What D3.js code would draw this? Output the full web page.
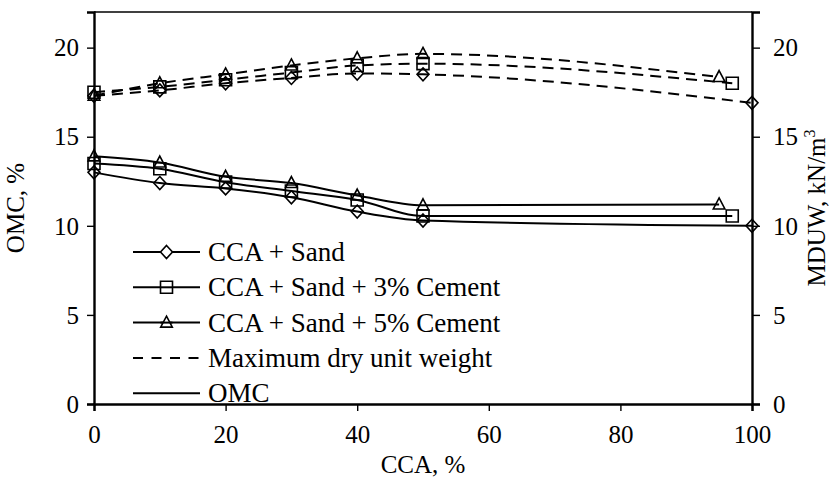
<!DOCTYPE html>
<html>
<head>
<meta charset="utf-8">
<script src="https://cdn.jsdelivr.net/npm/d3@7"></script>
<style>
  html, body { margin: 0; padding: 0; background: #fff; }
  svg text { font-family: 'Liberation Serif', 'DejaVu Serif', serif; fill: #000; }
</style>
</head>
<body>
<svg id="chart" width="836" height="478"></svg>
<script>
// CCA content (%) for each mix
const ccaSand = [0, 10, 20, 30, 40, 50, 100];
const ccaCem3 = [0, 10, 20, 30, 40, 50, 97];
const ccaCem5 = [0, 10, 20, 30, 40, 50, 95];

// Optimum moisture content (%)
const omcSand = [13.0, 12.4, 12.1, 11.6, 10.8, 10.3, 10.0];
const omcCem3 = [13.5, 13.2, 12.45, 11.95, 11.45, 10.55, 10.55];
const omcCem5 = [13.9, 13.55, 12.75, 12.4, 11.7, 11.15, 11.2];

// Maximum dry unit weight (kN/m3)
const mduwSand = [17.3, 17.6, 18.0, 18.3, 18.55, 18.5, 16.9];
const mduwCem3 = [17.5, 17.8, 18.2, 18.6, 19.0, 19.1, 18.0];
const mduwCem5 = [17.3, 18.0, 18.5, 19.0, 19.4, 19.65, 18.35];

const xTicks = [0, 20, 40, 60, 80, 100];
const yTicks = [0, 5, 10, 15, 20];

const seriesNames = ["CCA + Sand", "CCA + Sand + 3% Cement", "CCA + Sand + 5% Cement"];
const legendLineNames = ["Maximum dry unit weight", "OMC"];

const FONT = "'Liberation Serif', 'DejaVu Serif', serif";
const svg = d3.select("#chart");
const pLeft = 94, pRight = 752, pTop = 12, pBottom = 404;
const FS = 25, LEG_FS = 27;

const x = d3.scaleLinear().domain([0, 100]).range([pLeft, pRight]);
const yL = d3.scaleLinear().domain([0, 22]).range([pBottom, pTop]);
const yR = d3.scaleLinear().domain([0, 22]).range([pBottom, pTop]);

// marker shapes
const markerPath = {
  diamond: "M0,-6.5L6,0L0,6.5L-6,0Z",
  square: "M-6,-6H6V6H-6Z",
  triangle: "M0,-6.5L5.8,4.5H-5.8Z"
};
const shapes = ["diamond", "square", "triangle"];

const series = [
  { xs: ccaSand, omc: omcSand, mduw: mduwSand, shape: "diamond" },
  { xs: ccaCem3, omc: omcCem3, mduw: mduwCem3, shape: "square" },
  { xs: ccaCem5, omc: omcCem5, mduw: mduwCem5, shape: "triangle" }
];

const curve = d3.curveMonotoneX;

// top frame line
svg.append("line")
  .attr("x1", pLeft).attr("x2", pRight).attr("y1", pTop).attr("y2", pTop)
  .attr("stroke", "#000").attr("stroke-width", 1.3);

// data lines
const gLines = svg.append("g");
series.forEach(s => {
  const pts = s.xs.map((v, i) => [v, i]);
  gLines.append("path")
    .attr("d", d3.line().x(d => x(d[0])).y(d => yR(s.mduw[d[1]])).curve(curve)(pts))
    .attr("fill", "none").attr("stroke", "#000").attr("stroke-width", 2)
    .attr("stroke-dasharray", "11,7");
  gLines.append("path")
    .attr("d", d3.line().x(d => x(d[0])).y(d => yL(s.omc[d[1]])).curve(curve)(pts))
    .attr("fill", "none").attr("stroke", "#000").attr("stroke-width", 2);
});

// markers
series.forEach(s => {
  s.xs.forEach((v, i) => {
    gLines.append("path").attr("d", markerPath[s.shape])
      .attr("transform", `translate(${x(v)},${yR(s.mduw[i])})`)
      .attr("fill", "none").attr("stroke", "#000").attr("stroke-width", 1.6);
    gLines.append("path").attr("d", markerPath[s.shape])
      .attr("transform", `translate(${x(v)},${yL(s.omc[i])})`)
      .attr("fill", "none").attr("stroke", "#000").attr("stroke-width", 1.6);
  });
});

// axes
const axB = svg.append("g").attr("transform", `translate(0,${pBottom})`)
  .call(d3.axisBottom(x).tickValues(xTicks).tickSize(7).tickFormat(d3.format("d")));
axB.selectAll("text").attr("y", 39).attr("dy", 0);

const axL = svg.append("g").attr("transform", `translate(${pLeft},0)`)
  .call(d3.axisLeft(yL).tickValues(yTicks).tickSize(7).tickFormat(d3.format("d")));
axL.selectAll("text").attr("x", -15).attr("dy", "0.33em");

const axR = svg.append("g").attr("transform", `translate(${pRight},0)`)
  .call(d3.axisRight(yR).tickValues(yTicks).tickSize(8).tickFormat(d3.format("d")));
axR.selectAll("text").attr("x", 21).attr("dy", "0.33em");

[axB, axL, axR].forEach(a => {
  a.attr("font-family", FONT).attr("font-size", FS);
  a.select(".domain").attr("stroke-width", 2.4);
  a.selectAll(".tick line").attr("stroke-width", 1.4);
  a.selectAll("text").style("font-family", FONT).style("font-size", FS + "px");
});

// axis titles
svg.append("text").attr("x", x(50)).attr("y", 473).attr("text-anchor", "middle")
  .style("font-family", FONT).style("font-size", FS + "px").text("CCA, %");
svg.append("text").attr("transform", `translate(24,${(pTop + pBottom) / 2}) rotate(-90)`)
  .attr("text-anchor", "middle")
  .style("font-family", FONT).style("font-size", FS + "px").text("OMC, %");
const rt = svg.append("text").attr("transform", `translate(825,${(pTop + pBottom) / 2}) rotate(-90)`)
  .attr("text-anchor", "middle")
  .style("font-family", FONT).style("font-size", FS + "px");
rt.append("tspan").text("MDUW, kN/m");
rt.append("tspan").style("font-size", "16px").attr("dy", -10).text("3");

// legend
const legX1 = 133, legX2 = 200, legTx = 208, legY0 = 252, legDy = 35.3;
const legRows = [
  ...seriesNames.map((n, i) => ({ name: n, shape: shapes[i], dash: null })),
  { name: legendLineNames[0], shape: null, dash: "10,8.5" },
  { name: legendLineNames[1], shape: null, dash: null }
];
legRows.forEach((r, i) => {
  const yy = legY0 + i * legDy;
  svg.append("line").attr("x1", legX1).attr("x2", legX2).attr("y1", yy).attr("y2", yy)
    .attr("stroke", "#000").attr("stroke-width", 2)
    .attr("stroke-dasharray", r.dash);
  if (r.shape) {
    svg.append("path").attr("d", markerPath[r.shape])
      .attr("transform", `translate(${(legX1 + legX2) / 2},${yy})`)
      .attr("fill", "#fff").attr("stroke", "#000").attr("stroke-width", 1.6);
    if (r.shape !== "diamond") {
      svg.append("line").attr("x1", (legX1 + legX2) / 2 - 6).attr("x2", (legX1 + legX2) / 2 + 6)
        .attr("y1", yy).attr("y2", yy).attr("stroke", "#000").attr("stroke-width", 2);
    }
  }
  svg.append("text").attr("x", legTx).attr("y", yy).attr("dy", "0.33em")
    .style("font-family", FONT).style("font-size", LEG_FS + "px").text(r.name);
});
</script>
</body>
</html>
